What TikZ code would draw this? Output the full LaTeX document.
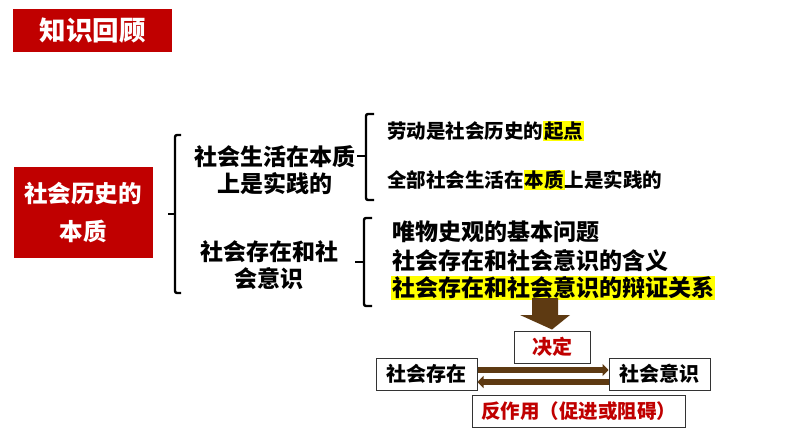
\documentclass[tikz,border=0pt]{standalone}
\usepackage{fontspec}
\setmainfont{Noto Sans CJK SC}[BoldFont={Noto Sans CJK SC Black}]
\usetikzlibrary{arrows.meta}
\definecolor{dred}{RGB}{192,0,0}
\definecolor{brown}{RGB}{94,58,18}
\definecolor{hl}{RGB}{255,255,0}
\newcommand{\hlt}[1]{{\setlength{\fboxsep}{1pt}\colorbox{hl}{#1}}}
\tikzset{
  redbox/.style={fill=dred, text=white, font=\bfseries},
  bracket/.style={line width=2.4pt, rounded corners=2pt},
  item/.style={anchor=west, inner sep=0pt, font=\bfseries\fontsize{19.5}{22}\selectfont},
  bigitem/.style={anchor=west, inner sep=0pt, font=\bfseries\fontsize{23}{26}\selectfont},
  sub/.style={align=center, inner sep=0pt, font=\bfseries\fontsize{23}{27}\selectfont},
  wbox/.style={draw=black!80, line width=1pt, fill=white, minimum height=32pt, inner sep=0pt, font=\bfseries\fontsize{20}{24}\selectfont},
  flow/.style={draw=brown, line width=6pt, -{Triangle[length=6pt,width=12pt]}},
}
\begin{document}
\begin{tikzpicture}[x=1pt,y=-1pt]
\useasboundingbox (0,0) rectangle (794,447);
% title
\node[redbox, minimum width=159pt, minimum height=43pt, inner sep=0pt, font=\bfseries\fontsize{26.5}{28}\selectfont] (title) at (92.5,30.5) {知识回顾};
% main box
\node[redbox, minimum width=139pt, minimum height=91pt, inner sep=0pt, align=center, font=\bfseries\fontsize{23.5}{38}\selectfont] (main) at (83,212.5) {社会历史的\\本质};
% bracket 1
\draw[bracket] (181,135) -- (175,135) -- (175,293) -- (181,293);
\draw[line width=2.4pt] (175,214) -- (168,214);
\node[sub] (s1) at (275,170) {社会生活在本质\\上是实践的};
\node[sub] (s2) at (269,265) {社会存在和社\\会意识};
% bracket 2
\draw[bracket] (374,114) -- (366,114) -- (366,200) -- (374,200);
\draw[line width=2.4pt] (366,156) -- (357,156);
\node[item] (a1) at (387,131) {劳动是社会历史的\hlt{起点}};
\node[item] (a2) at (387,180) {全部社会生活在\hlt{本质}上是实践的};
% bracket 3
\draw[bracket] (372,218) -- (364,218) -- (364,306) -- (372,306);
\draw[line width=2.4pt] (364,262) -- (355,262);
\node[bigitem] (b1) at (392,232) {唯物史观的基本问题};
\node[bigitem] (b2) at (392,261) {社会存在和社会意识的含义};
\node[bigitem, fill=hl, inner sep=1pt] (b3) at (391,288) {社会存在和社会意识的辩证关系};
% bottom boxes
\node[wbox, minimum width=76pt, text=dred] (dec) at (552,347) {决定};
\node[wbox, minimum width=101pt] (se) at (426.5,374) {社会存在};
\node[wbox, minimum width=101pt] (sy) at (659.5,374) {社会意识};
\node[wbox, minimum width=213pt, text=dred, font=\bfseries\fontsize{19.5}{24}\selectfont] (fz) at (578.5,411) {反作用（促进或阻碍）};
% down block arrow from b3 to dec
\coordinate (ds) at (545,298);
\fill[brown] ([xshift=-13pt]ds) -- ([xshift=13pt]ds) -- (558,315) -- (570,315)
  -- ([yshift=1pt]dec.north) -- (520,315) -- (532,315) -- cycle;
% flow arrows
\draw[flow] ([yshift=4pt]se.east) -- ([yshift=4pt]sy.west);
\draw[flow] ([yshift=-8pt]sy.west) -- ([yshift=-8pt]se.east);
\end{tikzpicture}
\end{document}
